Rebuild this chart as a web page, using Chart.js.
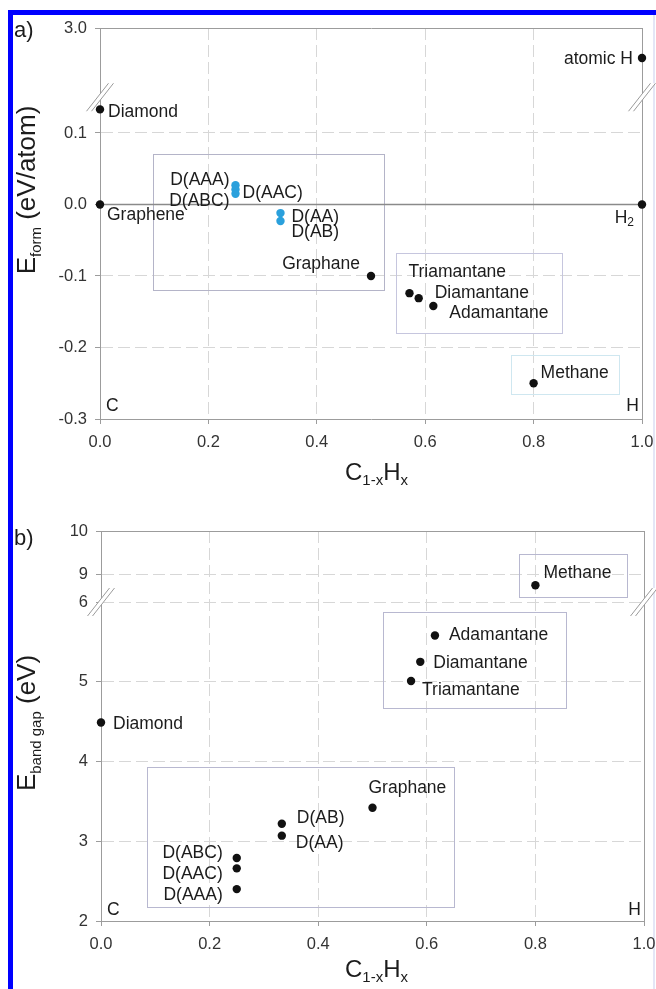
<!DOCTYPE html>
<html><head><meta charset="utf-8">
<script src="https://cdn.jsdelivr.net/npm/chart.js@4/dist/chart.umd.min.js"></script>
<style>
html,body{margin:0;padding:0;background:#fff;}
body{width:656px;height:989px;position:relative;overflow:hidden;}
canvas{position:absolute;left:0;}
#ca{top:0;} #cb{top:490px;}
#bl{position:absolute;left:8px;top:10px;width:5px;height:979px;background:#0000ff;}
#bt{position:absolute;left:8px;top:10px;width:648px;height:5px;background:#0000ff;}
#br{position:absolute;left:653px;top:15px;width:2px;height:974px;background:#e4e6f6;}
</style></head>
<body>
<div id="br"></div>
<canvas id="ca" width="656" height="490"></canvas>
<canvas id="cb" width="656" height="499"></canvas>
<div id="bl"></div><div id="bt"></div>
<script>
// ---------- data ----------
const xTicks = [0, 0.2, 0.4, 0.6, 0.8, 1.0];
const yTicksA = [-0.3, -0.2, -0.1, 0.0, 0.1, 3.0];
const yTicksB = [2, 3, 4, 5, 6, 9, 10];

const namesA = ['Diamond','Graphene','atomic H','H2','D(AAA)','D(AAC)','D(ABC)','D(AA)','D(AB)','Graphane','Triamantane','Diamantane','Adamantane','Methane'];
const xA     = [0, 0, 1.0, 1.0, 0.25, 0.25, 0.25, 0.333, 0.333, 0.5, 0.571, 0.588, 0.615, 0.8];
const eForm  = [0.133, 0.0, 2.35, 0.0, 0.027, 0.021, 0.015, -0.012, -0.023, -0.100, -0.124, -0.131, -0.142, -0.250];

const namesB = ['Methane','Adamantane','Diamantane','Triamantane','Diamond','Graphane','D(AB)','D(AA)','D(ABC)','D(AAC)','D(AAA)'];
const xB     = [0.8, 0.615, 0.588, 0.571, 0, 0.5, 0.333, 0.333, 0.25, 0.25, 0.25];
const eGap   = [8.74, 5.58, 5.25, 5.01, 4.49, 3.42, 3.22, 3.07, 2.79, 2.66, 2.40];

// ---------- styles ----------
const FONT = '"Liberation Sans", Arial, Helvetica, sans-serif';
const BLACK = '#111111', BLUE = '#2aa0dc';
const AXIS = '#9c9c9c', GRID = '#d7d7d7', TXT = '#1c1c1c', TICK = '#333333';
const LBL = 17.5, LSUB = 12, PR = 4.2;

function brokenScale(id, tickVals, brk) {
  class S extends Chart.LinearScale {
    buildTicks() { return tickVals.map(v => ({value: v})); }
    getPixelForValue(v) {
      const top = this.top, bot = this.bottom, pb = bot - brk.frac * (bot - top);
      if (v <= brk.lo) return bot - (v - this.min) / (brk.lo - this.min) * (bot - pb);
      if (v >= brk.hi) return pb - (v - brk.hi) / (this.max - brk.hi) * (pb - top);
      return pb;
    }
    getValueForPixel(p) {
      const top = this.top, bot = this.bottom, pb = bot - brk.frac * (bot - top);
      if (p >= pb) return this.min + (bot - p) / (bot - pb) * (brk.lo - this.min);
      return brk.hi + (pb - p) / (pb - top) * (this.max - brk.hi);
    }
    breakPixel() { const top = this.top, bot = this.bottom; return bot - brk.frac * (bot - top); }
  }
  S.id = id; S.defaults = {};
  Chart.register(S);
}
brokenScale('brokenA', yTicksA, {lo: 0.15, hi: 1.5, frac: 0.8229});
brokenScale('brokenB', yTicksB, {lo: 6, hi: 8.35, frac: 0.8179});

function drawRich(ctx, parts, x, y, align, size, subSize, color) {
  let w = 0;
  const ws = parts.map(([t, s]) => { ctx.font = (s ? subSize : size) + 'px ' + FONT; const m = ctx.measureText(t).width; w += m; return m; });
  let sx = align === 'left' ? x : (align === 'right' ? x - w : x - w / 2);
  const base = y + size * 0.36;
  ctx.textAlign = 'left'; ctx.textBaseline = 'alphabetic'; ctx.fillStyle = color || TXT;
  parts.forEach(([t, s], i) => {
    ctx.font = (s ? subSize : size) + 'px ' + FONT;
    ctx.fillText(t, sx, s ? base + size * 0.2 : base);
    sx += ws[i];
  });
}

const annot = {
  id: 'annot',
  beforeDatasetsDraw(chart, args, o) {
    const ctx = chart.ctx, xs = chart.scales.x, ys = chart.scales.y;
    ctx.save();
    ctx.lineWidth = 1;
    for (const b of o.boxes) {
      const x1 = Math.round(xs.getPixelForValue(b[0])) + 0.5, x2 = Math.round(xs.getPixelForValue(b[1])) + 0.5;
      const y1 = Math.round(ys.getPixelForValue(b[2])) + 0.5, y2 = Math.round(ys.getPixelForValue(b[3])) + 0.5;
      ctx.strokeStyle = b[4];
      ctx.strokeRect(x1, y1, x2 - x1, y2 - y1);
    }
    // axis breaks
    const cy = ys.breakPixel();
    for (const cx of [chart.chartArea.left, chart.chartArea.right]) {
      const g = 2.5, hx = 11, hy = 14;
      ctx.fillStyle = '#ffffff';
      ctx.beginPath();
      ctx.moveTo(cx - g - hx, cy + hy); ctx.lineTo(cx - g + hx, cy - hy);
      ctx.lineTo(cx + g + hx, cy - hy); ctx.lineTo(cx + g - hx, cy + hy);
      ctx.closePath(); ctx.fill();
      ctx.strokeStyle = '#9a9a9a';
      ctx.beginPath();
      ctx.moveTo(cx - g - hx, cy + hy); ctx.lineTo(cx - g + hx, cy - hy);
      ctx.moveTo(cx + g - hx, cy + hy); ctx.lineTo(cx + g + hx, cy - hy);
      ctx.stroke();
    }
    ctx.restore();
  },
  afterDraw(chart, args, o) {
    const ctx = chart.ctx, ca = chart.chartArea;
    ctx.save();
    const meta = chart.getDatasetMeta(0);
    meta.data.forEach((pt, i) => {
      const name = o.names[i], L = o.labels[name];
      if (!L) return;
      drawRich(ctx, (o.rich[name] || [[name, 0]]), pt.x + L[0], pt.y + L[1], L[2], LBL, LSUB);
    });
    drawRich(ctx, [['C', 0]], ca.left + 6, ca.bottom - o.cornerDy, 'left', LBL, LSUB);
    drawRich(ctx, [['H', 0]], ca.right - 3, ca.bottom - o.cornerDy, 'right', LBL, LSUB);
    // panel letter
    drawRich(ctx, [[o.letter, 0]], 14, o.letterY, 'left', 22, 14);
    // x title
    drawRich(ctx, [['C', 0], ['1-x', 1], ['H', 0], ['x', 1]], 345, o.xTitleY, 'left', 24, 15);
    // y title (rotated)
    ctx.translate(26, o.yTitleY);
    ctx.rotate(-Math.PI / 2);
    drawRich(ctx, o.yTitle, 0, 0, 'center', 26, 15);
    ctx.restore();
  }
};

function makeOpts(cfg) {
  return {
    responsive: false, animation: false, events: [],
    layout: {padding: cfg.pad},
    plugins: {legend: {display: false}, tooltip: {enabled: false}, annot: cfg.annot},
    scales: {
      x: {
        type: 'linear', position: 'bottom', min: 0, max: 1,
        afterBuildTicks: s => { s.ticks = xTicks.map(v => ({value: v})); },
        ticks: {autoSkip: false, maxRotation: 0, padding: 9, color: TICK, font: {family: FONT, size: 16.5}, callback: v => Number(v).toFixed(1)},
        grid: {color: c => (c.tick && (c.tick.value <= 0 || c.tick.value >= 1)) ? 'rgba(0,0,0,0)' : GRID, tickColor: AXIS, tickLength: 5, lineWidth: 1},
        border: {color: AXIS, width: 1, dash: [12, 5]},
        afterFit: s => { s.height = 40; s.paddingLeft = 0; s.paddingRight = 0; }
      },
      y: {
        type: cfg.yType, position: 'left', min: cfg.yMin, max: cfg.yMax,
        ticks: {autoSkip: false, padding: 8, color: TICK, font: {family: FONT, size: 16.5}, callback: cfg.yFmt},
        grid: {color: c => (c.tick && (c.tick.value === cfg.yMin || c.tick.value === cfg.yMax)) ? 'rgba(0,0,0,0)' : GRID, tickColor: AXIS, tickLength: 5, lineWidth: 1},
        border: {color: AXIS, width: 1, dash: [12, 5]},
        afterFit: s => { s.width = 60; s.paddingTop = 0; s.paddingBottom = 0; }
      },
      x2: {type: 'linear', position: 'top', min: 0, max: 1, ticks: {display: false}, grid: {display: false, drawTicks: false}, border: {display: true, color: AXIS, width: 1}, afterFit: s => { s.height = 0; s.paddingLeft = 0; s.paddingRight = 0; }},
      y2: {type: 'linear', position: 'right', min: 0, max: 1, ticks: {display: false}, grid: {display: false, drawTicks: false}, border: {display: true, color: AXIS, width: 1}, afterFit: s => { s.width = 0; s.paddingTop = 0; s.paddingBottom = 0; }}
    }
  };
}

// ---------- panel a ----------
new Chart(document.getElementById('ca'), {
  type: 'scatter',
  data: {datasets: [
    {data: xA.map((x, i) => ({x: x, y: eForm[i]})), pointRadius: PR, borderWidth: 0,
     pointBackgroundColor: c => namesA[c.dataIndex].startsWith('D(') ? BLUE : BLACK,
     pointBorderColor: c => namesA[c.dataIndex].startsWith('D(') ? BLUE : BLACK,
     clip: false, order: 1},
    {data: [{x: 0, y: 0}, {x: 1, y: 0}], showLine: true, borderColor: '#8a8a8a', borderWidth: 1.3, pointRadius: 0, clip: false, order: 5}
  ]},
  options: makeOpts({
    pad: {left: 40, right: 14, top: 28, bottom: 31},
    yType: 'brokenA', yMin: -0.3, yMax: 3.0, yFmt: v => Number(v).toFixed(1),
    annot: {
      names: namesA,
      labels: {
        'Diamond': [8, 1, 'left'], 'Graphene': [7, 9, 'left'], 'atomic H': [-9, 0, 'right'], 'H2': [-8, 12, 'right'],
        'D(AAA)': [-6, -6, 'right'], 'D(AAC)': [7, 2, 'left'], 'D(ABC)': [-6, 6, 'right'],
        'D(AA)': [11, 3, 'left'], 'D(AB)': [11, 10, 'left'], 'Graphane': [-11, -13, 'right'],
        'Triamantane': [-1, -22, 'left'], 'Diamantane': [16, -6, 'left'], 'Adamantane': [16, 6, 'left'], 'Methane': [7, -12, 'left']
      },
      rich: {'H2': [['H', 0], ['2', 1]]},
      boxes: [[0.098, 0.524, 0.07, -0.12, '#b4b4c8'], [0.546, 0.853, -0.0685, -0.1794, '#c6c6de'], [0.758, 0.957, -0.2108, -0.2657, '#cfe7f0']],
      cornerDy: 14, letter: 'a)', letterY: 29, xTitleY: 471.5, yTitleY: 190,
      yTitle: [['E', 0], ['form', 1], [' (eV/atom)', 0]]
    }
  }),
  plugins: [annot]
});

// ---------- panel b ----------
new Chart(document.getElementById('cb'), {
  type: 'scatter',
  data: {datasets: [
    {data: xB.map((x, i) => ({x: x, y: eGap[i]})), pointRadius: PR, borderWidth: 0,
     pointBackgroundColor: BLACK, pointBorderColor: BLACK, clip: false}
  ]},
  options: makeOpts({
    pad: {left: 41, right: 12, top: 41, bottom: 28},
    yType: 'brokenB', yMin: 2, yMax: 10, yFmt: v => String(v),
    annot: {
      names: namesB,
      labels: {
        'Methane': [8, -14, 'left'], 'Adamantane': [14, -2, 'left'], 'Diamantane': [13, 0, 'left'], 'Triamantane': [11, 8, 'left'],
        'Diamond': [12, 0, 'left'], 'Graphane': [-4, -21, 'left'], 'D(AB)': [15, -7, 'left'], 'D(AA)': [14, 6, 'left'],
        'D(ABC)': [-14, -6, 'right'], 'D(AAC)': [-14, 4, 'right'], 'D(AAA)': [-14, 5, 'right']
      },
      rich: {},
      boxes: [[0.770, 0.969, 9.465, 8.458, '#b8b8d0'], [0.52, 0.856, 5.871, 4.667, '#b8b8d0'], [0.084, 0.651, 3.927, 2.172, '#b8b8d0']],
      cornerDy: 12, letter: 'b)', letterY: 47, xTitleY: 478.5, yTitleY: 233,
      yTitle: [['E', 0], ['band gap', 1], [' (eV)', 0]]
    }
  }),
  plugins: [annot]
});
</script>
</body></html>
